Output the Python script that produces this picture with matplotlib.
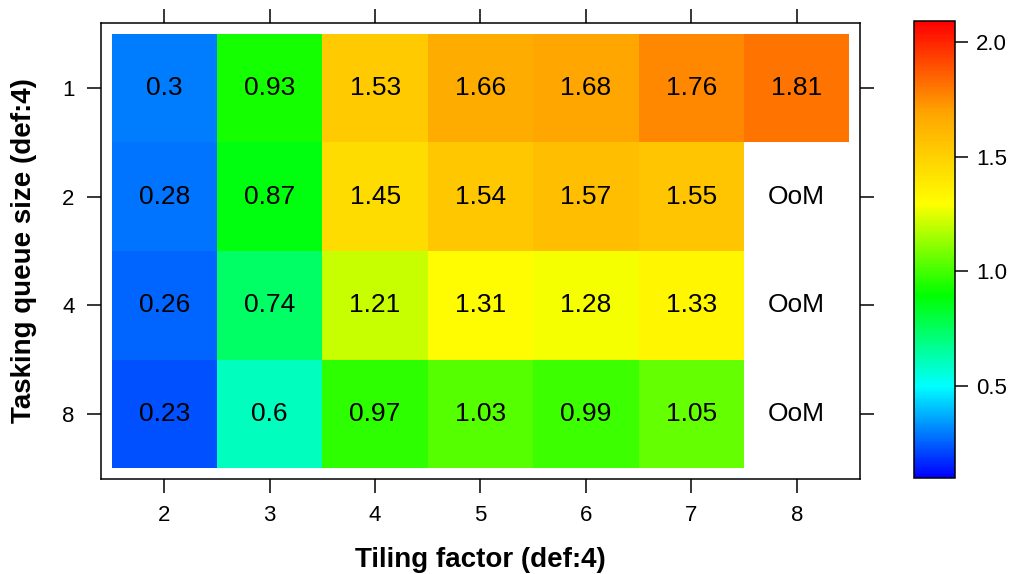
import numpy as np
import matplotlib.pyplot as plt
from matplotlib.colors import LinearSegmentedColormap

plt.rcParams['font.family'] = ['Liberation Sans', 'DejaVu Sans']

tiling = [2, 3, 4, 5, 6, 7, 8]
queue = [1, 2, 4, 8]

# speedup per (queue size, tiling factor); nan = out of memory
q1 = [0.3, 0.93, 1.53, 1.66, 1.68, 1.76, 1.81]
q2 = [0.28, 0.87, 1.45, 1.54, 1.57, 1.55, np.nan]
q4 = [0.26, 0.74, 1.21, 1.31, 1.28, 1.33, np.nan]
q8 = [0.23, 0.6, 0.97, 1.03, 0.99, 1.05, np.nan]

cbar_ticks = [0.5, 1.0, 1.5, 2.0]
vmin, vmax = 0.1, 2.09

z = np.array([q1, q2, q4, q8])
cmap = LinearSegmentedColormap.from_list(
    "rainbow6", ["blue", "cyan", "lime", "yellow", "orange", "red"])

W, H = 1011, 574
fig = plt.figure(figsize=(W / 100, H / 100), dpi=100)
ax = fig.add_axes([0.0999, 0.1655, 0.7507, 0.7944])
cax = fig.add_axes([0.904, 0.1672, 0.0406, 0.7962])

xe = np.arange(len(tiling) + 1) + 0.5
ye = np.arange(len(queue) + 1) + 0.5
mesh = ax.pcolormesh(xe, ye, np.ma.masked_invalid(z), cmap=cmap,
                     vmin=vmin, vmax=vmax, shading='flat')

for i in range(len(queue)):
    for j in range(len(tiling)):
        v = z[i, j]
        txt = "OoM" if np.isnan(v) else f"{v:g}"
        ax.text(j + 1, i + 1, txt, ha='center', va='center', fontsize=19)

# factor-style padding of 0.6 on each side
ax.set_xlim(0.4, len(tiling) + 0.6)
ax.set_ylim(len(queue) + 0.6, 0.4)
ax.set_xticks(range(1, len(tiling) + 1))
ax.set_xticklabels([str(t) for t in tiling])
ax.set_yticks(range(1, len(queue) + 1))
ax.set_yticklabels([str(q) for q in queue])
ax.tick_params(axis='both', direction='out', length=10, width=1.1,
               labelsize=16, pad=9, top=True, right=True,
               labeltop=False, labelright=False)
for s in ax.spines.values():
    s.set_linewidth(1.1)

fig.text(480.5 / W, 7 / H, "Tiling factor (def:4)", ha='center',
         va='baseline', fontsize=20, fontweight='bold')
fig.text(24 / W, 0.5 * (0.1655 + 0.9599), "Tasking queue size (def:4)",
         rotation=90, ha='center', va='center', fontsize=20, fontweight='bold')

cb = fig.colorbar(mesh, cax=cax, ticks=cbar_ticks)
cb.ax.set_yticklabels([f"{t:.1f}" for t in cbar_ticks])
cb.ax.tick_params(direction='out', length=9, width=1.1, labelsize=16, pad=6)
cb.outline.set_linewidth(1.1)

fig.savefig("out.png", dpi=100)
